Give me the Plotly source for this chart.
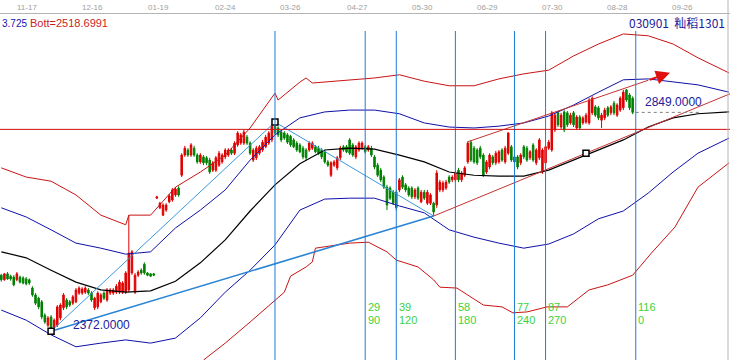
import plotly.graph_objects as go

# ---------------- data ----------------
bar_index = list(range(-88, 116))

opens = [2494, 2484, 2497, 2492, 2490, 2484, 2490, 2488, 2486, 2484,
         2466, 2451, 2444, 2436, 2407, 2385, 2403, 2381, 2385, 2401,
         2423, 2440, 2436, 2433, 2436, 2455, 2455, 2457, 2462, 2455,
         2423, 2425, 2436, 2455, 2440, 2455, 2455, 2457, 2457, 2457,
         2457, 2462, 2499, 2457, 2494, 2505, 2518, 2499, 2497, 2497,
         2662, 2641, 2625, 2636, 2654, 2658, 2669, 2684, 2712, 2756,
         2767, 2756, 2771, 2756, 2741, 2752, 2750, 2745, 2723, 2723,
         2734, 2741, 2752, 2756, 2767, 2760, 2778, 2782, 2782, 2795,
         2782, 2745, 2750, 2760, 2767, 2774, 2782, 2789, 2819, 2815,
         2806, 2804, 2800, 2797, 2789, 2782, 2778, 2771, 2767, 2767,
         2771, 2774, 2771, 2767, 2763, 2741, 2712, 2734, 2728, 2750,
         2774, 2774, 2789, 2778, 2752, 2767, 2771, 2774, 2767, 2771,
         2752, 2734, 2723, 2708, 2686, 2684, 2675, 2675, 2680, 2708,
         2691, 2684, 2684, 2665, 2684, 2654, 2675, 2651, 2651, 2651,
         2647, 2680, 2680, 2684, 2708, 2702, 2702, 2723, 2702, 2712,
         2741, 2784, 2771, 2767, 2771, 2756, 2719, 2730, 2752, 2739,
         2741, 2767, 2741, 2760, 2774, 2752, 2752, 2739, 2774, 2771,
         2750, 2778, 2739, 2750, 2719, 2739, 2771, 2767, 2811, 2848,
         2817, 2850, 2848, 2826, 2848, 2815, 2839, 2826, 2828, 2826,
         2848, 2861, 2859, 2832, 2837, 2859, 2848, 2869, 2843, 2854,
         2859, 2898, 2887, 2880]

closes = [2484, 2497, 2486, 2486, 2473, 2497, 2479, 2477, 2475, 2477,
          2451, 2433, 2425, 2403, 2392, 2401, 2379, 2396, 2425, 2429,
          2451, 2425, 2429, 2447, 2462, 2466, 2464, 2466, 2455, 2440,
          2444, 2455, 2451, 2444, 2462, 2462, 2462, 2470, 2479, 2477,
          2499, 2542, 2545, 2494, 2501, 2499, 2499, 2494, 2492, 2494,
          2665, 2651, 2647, 2647, 2667, 2680, 2682, 2669, 2756, 2771,
          2756, 2778, 2756, 2741, 2756, 2739, 2739, 2719, 2739, 2750,
          2760, 2756, 2767, 2767, 2760, 2782, 2804, 2800, 2806, 2782,
          2760, 2767, 2771, 2774, 2784, 2795, 2804, 2819, 2804, 2800,
          2789, 2793, 2784, 2778, 2774, 2767, 2763, 2752, 2750, 2782,
          2782, 2763, 2760, 2752, 2741, 2734, 2739, 2741, 2750, 2771,
          2767, 2763, 2760, 2756, 2774, 2782, 2782, 2763, 2774, 2756,
          2730, 2712, 2702, 2686, 2647, 2662, 2651, 2641, 2702, 2686,
          2680, 2669, 2665, 2680, 2662, 2675, 2662, 2675, 2669, 2632,
          2717, 2697, 2695, 2697, 2697, 2708, 2717, 2702, 2717, 2728,
          2782, 2745, 2741, 2739, 2752, 2712, 2741, 2756, 2739, 2760,
          2763, 2745, 2771, 2804, 2745, 2741, 2730, 2756, 2752, 2745,
          2763, 2745, 2767, 2789, 2767, 2774, 2784, 2848, 2843, 2822,
          2843, 2811, 2822, 2843, 2822, 2839, 2815, 2837, 2843, 2876,
          2880, 2843, 2837, 2843, 2854, 2843, 2861, 2848, 2865, 2880,
          2893, 2876, 2859, 2849]

highs = [2497, 2499, 2501, 2495, 2494, 2501, 2493, 2492, 2490, 2487,
         2470, 2455, 2447, 2440, 2411, 2405, 2407, 2400, 2429, 2433,
         2455, 2444, 2440, 2451, 2466, 2470, 2468, 2470, 2466, 2459,
         2447, 2459, 2455, 2459, 2466, 2466, 2466, 2475, 2484, 2481,
         2503, 2625, 2549, 2499, 2505, 2509, 2522, 2501, 2499, 2499,
         2667, 2654, 2651, 2651, 2671, 2684, 2686, 2688, 2760, 2776,
         2771, 2782, 2776, 2760, 2760, 2756, 2754, 2750, 2743, 2754,
         2765, 2760, 2771, 2771, 2771, 2786, 2808, 2804, 2811, 2800,
         2786, 2771, 2776, 2778, 2789, 2800, 2808, 2824, 2828, 2819,
         2811, 2808, 2804, 2800, 2793, 2786, 2782, 2776, 2771, 2786,
         2786, 2778, 2776, 2771, 2767, 2745, 2743, 2745, 2754, 2776,
         2778, 2778, 2793, 2782, 2778, 2786, 2786, 2778, 2778, 2776,
         2756, 2739, 2728, 2712, 2691, 2688, 2680, 2680, 2706, 2712,
         2695, 2688, 2688, 2684, 2688, 2680, 2680, 2680, 2673, 2654,
         2723, 2702, 2700, 2702, 2712, 2712, 2721, 2728, 2721, 2732,
         2786, 2789, 2776, 2771, 2776, 2760, 2745, 2760, 2756, 2765,
         2767, 2771, 2776, 2806, 2778, 2756, 2756, 2760, 2778, 2776,
         2767, 2782, 2771, 2793, 2771, 2778, 2789, 2852, 2848, 2852,
         2848, 2854, 2852, 2848, 2852, 2843, 2843, 2841, 2848, 2880,
         2884, 2865, 2863, 2848, 2859, 2863, 2865, 2874, 2869, 2884,
         2898, 2900, 2891, 2884]

lows = [2480, 2482, 2484, 2482, 2470, 2481, 2476, 2474, 2472, 2473,
        2447, 2429, 2420, 2398, 2388, 2381, 2372, 2377, 2381, 2396,
        2418, 2420, 2425, 2429, 2433, 2451, 2451, 2453, 2451, 2436,
        2418, 2420, 2433, 2440, 2436, 2451, 2451, 2453, 2453, 2453,
        2453, 2457, 2495, 2453, 2490, 2495, 2495, 2492, 2490, 2492,
        2660, 2638, 2623, 2632, 2651, 2654, 2665, 2665, 2708, 2752,
        2752, 2752, 2752, 2737, 2737, 2734, 2734, 2715, 2719, 2719,
        2730, 2737, 2747, 2752, 2756, 2756, 2774, 2778, 2778, 2778,
        2756, 2741, 2745, 2756, 2763, 2771, 2778, 2784, 2800, 2795,
        2784, 2789, 2780, 2774, 2771, 2763, 2760, 2747, 2745, 2763,
        2767, 2760, 2756, 2747, 2737, 2730, 2708, 2730, 2723, 2745,
        2763, 2760, 2756, 2752, 2747, 2763, 2767, 2760, 2763, 2752,
        2725, 2708, 2697, 2682, 2636, 2658, 2647, 2636, 2675, 2682,
        2675, 2665, 2660, 2660, 2658, 2651, 2658, 2647, 2647, 2623,
        2641, 2675, 2675, 2680, 2693, 2697, 2697, 2697, 2697, 2708,
        2737, 2741, 2737, 2734, 2747, 2708, 2715, 2725, 2734, 2734,
        2737, 2741, 2737, 2756, 2741, 2737, 2725, 2734, 2747, 2741,
        2745, 2741, 2734, 2745, 2715, 2734, 2767, 2763, 2806, 2817,
        2813, 2806, 2817, 2822, 2817, 2811, 2811, 2822, 2824, 2822,
        2843, 2839, 2832, 2815, 2832, 2839, 2843, 2843, 2839, 2850,
        2854, 2872, 2854, 2845]

# band sample positions (bar index) and values
band_x = [-88, -80, -72, -64, -56, -48, -40, -32, -24, -16, -8, 0, 8, 16, 24,
          32, 40, 48, 56, 64, 72, 80, 88, 96, 104, 112, 120, 128, 136, 146]
mid_band = [2545, 2532, 2505, 2479, 2462, 2457, 2460, 2481, 2521, 2571, 2634, 2691, 2737, 2767, 2771,
            2769, 2756, 2741, 2719, 2712, 2710, 2710, 2723, 2745, 2767, 2789, 2817, 2837, 2846, 2850]
blue_upper = [2641, 2621, 2593, 2564, 2553, 2540, 2545, 2597, 2636, 2680, 2745, 2800, 2837, 2850, 2854,
              2854, 2846, 2826, 2817, 2815, 2819, 2826, 2841, 2865, 2893, 2920, 2922, 2915, 2909, 2893]
blue_lower = [2418, 2396, 2364, 2338, 2346, 2353, 2346, 2357, 2401, 2457, 2505, 2560, 2636, 2660, 2662,
              2662, 2645, 2630, 2593, 2577, 2564, 2553, 2562, 2584, 2617, 2634, 2673, 2719, 2760, 2793]

red_upper_x = [-88, -80, -72, -64, -56, -48, -47, -40, -32, -24, -16, -8, 0, 1, 8, 10, 12, 16, 24,
               32, 40, 48, 56, 64, 72, 80, 88, 96, 104, 112, 120, 128, 136, 146]
red_upper = [2728, 2708, 2699, 2669, 2625, 2604, 2625, 2625, 2686, 2719, 2756, 2815, 2891, 2876, 2915,
             2924, 2913, 2915, 2920, 2924, 2931, 2917, 2907, 2907, 2922, 2933, 2941, 2972, 2998, 3020,
             3016, 2998, 2968, 2935]

red_lower_x = [-23, -16, -8, 0, 3, 5, 10, 12, 13, 24, 30, 36, 39, 46, 51, 53, 58.5, 67, 73, 76.5,
               81, 87.5, 94, 101, 107, 115, 121, 128.6, 136, 146]
red_lower = [2309, 2346, 2392, 2440, 2457, 2492, 2512, 2523, 2553, 2564, 2566, 2545, 2527, 2512, 2484,
             2468, 2466, 2429, 2425, 2412, 2414, 2425, 2425, 2462, 2473, 2494, 2542, 2599, 2686, 2739]

# pivots: low, high, second low
pivot_x = [-72, 0, 51]
pivot_y = [2372, 2828, 2623]
channel_low_x = [51, 146.3]
channel_low_y = [2623, 2889.5]
channel_up_x = [62, 120]
channel_up_y = [2785, 2919]
arrow_tip = (127, 2935.5)
marker_x = [-72, 0, 100]
marker_y = [2372, 2828, 2760]

resist_level = 2812
last_price = 2849
low_price = 2372

fib_lines = [0, 29, 39, 58, 77, 87, 116]
fib_top = ['29', '39', '58', '77', '87', '116']
fib_bottom = ['90', '120', '180', '240', '270', '0']

tick_pos = [-79.7, -58.8, -37.6, -15.8, 5.1, 26.4, 47.3, 68.2, 89.1, 110.1, 130.9]
tick_text = ['11-17', '12-16', '01-19', '02-24', '03-26', '04-27', '05-30',
             '06-29', '07-30', '08-28', '09-26']

# ---------------- figure ----------------
RED = '#C81414'
BLUE = '#1010A8'
VBLUE = '#1E7CD6'
FONT = 'Liberation Sans'

fig = go.Figure()

fig.add_trace(go.Scatter(x=red_upper_x, y=red_upper, mode='lines', line=dict(color=RED, width=1), hoverinfo='skip'))
fig.add_trace(go.Scatter(x=red_lower_x, y=red_lower, mode='lines', line=dict(color=RED, width=1), hoverinfo='skip'))
fig.add_trace(go.Scatter(x=band_x, y=blue_upper, mode='lines', line=dict(color=BLUE, width=1), hoverinfo='skip'))
fig.add_trace(go.Scatter(x=band_x, y=blue_lower, mode='lines', line=dict(color=BLUE, width=1), hoverinfo='skip'))
fig.add_trace(go.Scatter(x=band_x, y=mid_band, mode='lines', line=dict(color='black', width=1.2), hoverinfo='skip'))

# trend lines
fig.add_trace(go.Scatter(x=pivot_x[:2], y=pivot_y[:2], mode='lines', line=dict(color='#3A98DC', width=1), hoverinfo='skip'))
fig.add_trace(go.Scatter(x=pivot_x[1:], y=pivot_y[1:], mode='lines', line=dict(color='#3A98DC', width=1), hoverinfo='skip'))
fig.add_trace(go.Scatter(x=[pivot_x[0], pivot_x[2]], y=[pivot_y[0], pivot_y[2]], mode='lines',
                         line=dict(color='#2A84D4', width=1.6), hoverinfo='skip'))
fig.add_trace(go.Scatter(x=channel_low_x, y=channel_low_y, mode='lines', line=dict(color='#C83232', width=1), hoverinfo='skip'))
fig.add_trace(go.Scatter(x=channel_up_x, y=channel_up_y, mode='lines', line=dict(color='#C83232', width=1), hoverinfo='skip'))

# dotted last price line
fig.add_trace(go.Scatter(x=[116, 136.6], y=[last_price, last_price], mode='lines',
                         line=dict(color='#808080', width=1, dash='dot'), hoverinfo='skip'))

fig.add_trace(go.Candlestick(
    x=bar_index, open=opens, high=highs, low=lows, close=closes,
    increasing=dict(line=dict(color='#E00000', width=1), fillcolor='#E00000'),
    decreasing=dict(line=dict(color='#008000', width=1), fillcolor='#008000'),
    whiskerwidth=0, hoverinfo='skip'))

fig.add_trace(go.Scatter(x=marker_x, y=marker_y, mode='markers',
                         marker=dict(symbol='square', size=6, color='white', line=dict(color='black', width=1.5)),
                         hoverinfo='skip'))

shapes = []
for v in fib_lines:
    shapes.append(dict(type='line', xref='x', yref='paper', x0=v, x1=v, y0=0, y1=1 - 31 / 360,
                       line=dict(color=VBLUE, width=1)))
shapes.append(dict(type='line', xref='paper', yref='y', x0=0, x1=1, y0=resist_level, y1=resist_level,
                   line=dict(color='#D01010', width=1)))
shapes.append(dict(type='line', xref='paper', yref='paper', x0=0, x1=1, y0=1 - 13.5 / 360, y1=1 - 13.5 / 360,
                   line=dict(color='#B4B4B4', width=1)))
shapes.append(dict(type='line', xref='paper', yref='paper', x0=728 / 730, x1=728 / 730, y0=0, y1=1,
                   line=dict(color='#B4B4B4', width=1)))

ann = []
for p, t in zip(tick_pos, tick_text):
    ann.append(dict(x=p, y=1 - 7 / 360, xref='x', yref='paper', text=t, showarrow=False,
                    xanchor='center', yanchor='middle', font=dict(family=FONT, size=8, color='#A0A0A0')))
for v, t1, t2 in zip(fib_lines[1:], fib_top, fib_bottom):
    ann.append(dict(x=v + 0.5, y=1 - 306.5 / 360, xref='x', yref='paper', text=t1, showarrow=False,
                    xanchor='left', yanchor='middle', borderpad=0,
                    font=dict(family=FONT, size=11, color='#3CD23C')))
    ann.append(dict(x=v + 0.5, y=1 - 319.5 / 360, xref='x', yref='paper', text=t2, showarrow=False,
                    xanchor='left', yanchor='middle', borderpad=0,
                    font=dict(family=FONT, size=11, color='#3CD23C')))

ann.append(dict(x=0.5 / 730, y=1 - 23 / 360, xref='paper', yref='paper', text='3.725', showarrow=False,
                xanchor='left', yanchor='middle', borderpad=0,
                font=dict(family=FONT, size=10, color='#1414B4')))
ann.append(dict(x=29 / 730, y=1 - 23 / 360, xref='paper', yref='paper', text='Bott=2518.6991', showarrow=False,
                xanchor='left', yanchor='middle', borderpad=0,
                font=dict(family=FONT, size=11, color='#C81E1E')))
ann.append(dict(x=727 / 730, y=1 - 22.5 / 360, xref='paper', yref='paper', text='030901\u00a0\u00a0籼稻1301',
                showarrow=False, xanchor='right', yanchor='middle',
                font=dict(family='Noto Sans CJK SC', size=12, color='#1A1A9A')))
ann.append(dict(x=118.3, y=2872, xref='x', yref='y', text=f'{last_price:.4f}', showarrow=False,
                xanchor='left', yanchor='middle', font=dict(family=FONT, size=12, color='#20209A')))
ann.append(dict(x=-65.6, y=2386, xref='x', yref='y', text=f'{low_price:.4f}', showarrow=False,
                xanchor='left', yanchor='middle', font=dict(family=FONT, size=12, color='#20209A')))
ann.append(dict(x=arrow_tip[0], y=arrow_tip[1], ax=channel_up_x[1], ay=channel_up_y[1], xref='x', yref='y',
                axref='x', ayref='y', text='', showarrow=True, arrowhead=2, arrowsize=1.4, arrowwidth=2,
                arrowcolor='#E01010'))

fig.update_layout(
    width=730, height=360, margin=dict(l=0, r=0, t=0, b=0),
    paper_bgcolor='white', plot_bgcolor='white', showlegend=False,
    xaxis=dict(range=[-88.42, 146.3], visible=False, rangeslider=dict(visible=False)),
    yaxis=dict(range=[2309.2, 3094], visible=False),
    shapes=shapes, annotations=ann,
)

fig.write_html('out.html', config={'displayModeBar': False},
               post_script="document.body.style.margin='0';document.body.style.padding='0';"
                           "document.body.style.overflow='hidden';")
